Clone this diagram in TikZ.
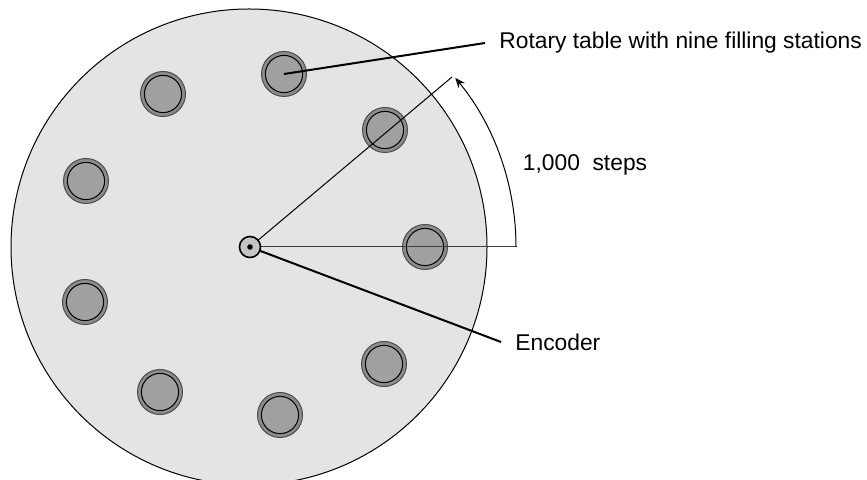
\documentclass[tikz,border=0pt]{standalone}
\usepackage{fontspec}
\setmainfont{Liberation Sans}
\usepackage{tikz}
\usepackage{xcolor}
\usetikzlibrary{arrows.meta}

\definecolor{tablegray}{HTML}{E4E4E4}
\definecolor{ringgray}{HTML}{8C8C8C}
\definecolor{cupgray}{HTML}{A0A0A0}
\definecolor{hubgray}{HTML}{C4C4C4}

\begin{document}
\begin{tikzpicture}[x=0.5pt, y=-0.5pt,
       turntable/.style={circle,inner sep=0pt,minimum size=238pt,draw,
      line width=0.5pt,black,fill=tablegray},
       station/.style={circle,inner sep=0pt,minimum size=22.5pt,draw=black!70,
      line width=0.5pt,fill=ringgray,
      path picture={\draw[black,line width=0.5pt,fill=cupgray]
        (path picture bounding box.center) circle (9.3pt);}},
       hub/.style={circle,inner sep=0pt,minimum size=10.5pt,draw=black,
      line width=0.8pt,fill=hubgray,
      path picture={\fill[black] (path picture bounding box.center) circle (1.4pt);}},
       callout/.style={anchor=west,inner ysep=0pt,inner xsep=7pt,text=black,
      font=\fontsize{11.4}{13}\selectfont},
       leader/.style={line width=1pt,black},
       rayline/.style={line width=0.5pt,black},
       steparrow/.style={rayline,-{Stealth[length=5pt,width=4pt]}}]

	\useasboundingbox (0,0) rectangle (867,480);

	\node [turntable] (table) at (249,247) {};

        \node [station] (s1) at (425,247) {};
        \node [station] (s2) at (385,130) {};
        \node [station] (s3) at (284,74)  {};
        \node [station] (s4) at (163,94)  {};
        \node [station] (s5) at (86,181)  {};
        \node [station] (s6) at (85,302)  {};
        \node [station] (s7) at (160,392) {};
        \node [station] (s8) at (280,415) {};
        \node [station] (s9) at (384,364) {};

        \node [callout] (tabletext) at (485,43) {Rotary table with nine filling stations};
        \node [callout,anchor=center] (stepstext) at (585,165) {1,000\ \ steps};
        \node [callout] (encodertext) at (501,342) {Encoder};

        \coordinate (r0)  at (517,247);
        \coordinate (a0)  at (516,247);
        \coordinate (r40) at (452,77);

        \path [rayline,black!75] (250,247) edge (r0);
        \path [rayline] (250,247) edge (r40);
        \draw [steparrow] (a0) arc [start angle=0, end angle=-39.5, radius=266];

        \path [leader] (s3.center) edge (tabletext.west);
        \path [leader] (250,247) edge (encodertext.west);

	\node [hub] (hub) at (250,247) {};
\end{tikzpicture}
\end{document}
